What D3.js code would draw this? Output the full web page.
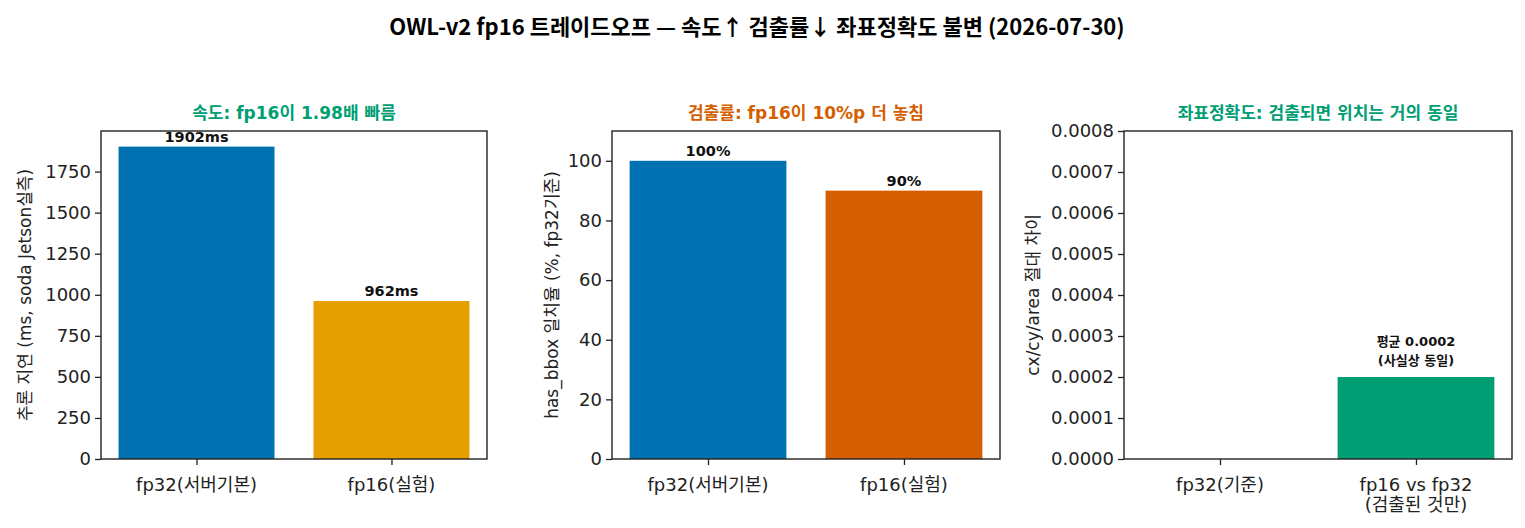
<!DOCTYPE html>
<html>
<head>
<meta charset="utf-8">
<script src="https://cdn.jsdelivr.net/npm/d3@7"></script>
<style>
  body { margin: 0; background: #fff; }
  svg { font-family: "DejaVu Sans", "Noto Sans CJK KR", sans-serif; }
  .title { font-family: "Noto Sans CJK KR", "Noto Sans", sans-serif; }
</style>
</head>
<body>
<script>
// data
var speedCats = ["fp32(서버기본)", "fp16(실험)"];
var speedVals = [1902, 962];
var speedLabels = ["1902ms", "962ms"];

var detectCats = ["fp32(서버기본)", "fp16(실험)"];
var detectVals = [100, 90];
var detectLabels = ["100%", "90%"];

var coordCats = ["fp32(기준)", "fp16 vs fp32\n(검출된 것만)"];
var coordVals = [0, 0.0002];
var coordLabels = ["", "평균 0.0002\n(사실상 동일)"];

var speedTicks = [0, 250, 500, 750, 1000, 1250, 1500, 1750];
var detectTicks = [0, 20, 40, 60, 80, 100];
var coordTicks = [0, 0.0001, 0.0002, 0.0003, 0.0004, 0.0005, 0.0006, 0.0007, 0.0008];

var W = 1525, H = 528;
var plotTop = 131, plotBottom = 459;

var svg = d3.select("body").append("svg")
  .attr("width", W).attr("height", H);

svg.append("text").attr("class", "title")
  .attr("x", 757).attr("y", 35)
  .attr("text-anchor", "middle")
  .style("font-size", "22px").style("font-weight", "bold")
  .text("OWL-v2 fp16 트레이드오프 — 속도↑ 검출률↓ 좌표정확도 불변 (2026-07-30)");

function panel(opt) {
  var g = svg.append("g");
  // two bars of width .8, xlim like matplotlib [-0.49, 1.49]
  var x = d3.scaleLinear().domain([-0.49, 1.49]).range([opt.left, opt.right]);
  var y = d3.scaleLinear().domain(opt.ydom).range([plotBottom, plotTop]);

  g.selectAll("rect.bar").data(opt.vals).enter().append("rect")
    .attr("class", "bar")
    .attr("x", function(d, i) { return x(i - 0.4); })
    .attr("width", function(d, i) { return x(i + 0.4) - x(i - 0.4); })
    .attr("y", function(d) { return y(d); })
    .attr("height", function(d) { return plotBottom - y(d); })
    .attr("fill", function(d, i) { return opt.colors[i]; });

  // y axis
  var ya = g.append("g").attr("transform", "translate(" + opt.left + ",0)")
    .call(d3.axisLeft(y).tickValues(opt.ticks).tickSize(6).tickPadding(4).tickFormat(opt.fmt));
  ya.select(".domain").remove();
  ya.selectAll("text").style("font-size", "18px").style("font-family", "DejaVu Sans").attr("fill", "#222");
  ya.selectAll("line").attr("stroke", "#222").attr("stroke-width", 1.3);

  // x axis
  var xa = g.append("g").attr("transform", "translate(0," + plotBottom + ")")
    .call(d3.axisBottom(x).tickValues([0, 1]).tickSize(6).tickFormat(""));
  xa.select(".domain").remove();
  xa.selectAll("line").attr("stroke", "#222").attr("stroke-width", 1.3);
  opt.cats.forEach(function(c, i) {
    var t = g.append("text").attr("x", x(i)).attr("y", plotBottom + 32)
      .attr("text-anchor", "middle").style("font-size", "18px").attr("fill", "#222");
    c.split("\n").forEach(function(line, k) {
      t.append("tspan").attr("x", x(i)).attr("dy", k ? 20 : 0).text(line);
    });
  });

  // frame
  g.append("rect").attr("x", opt.left).attr("y", plotTop)
    .attr("width", opt.right - opt.left).attr("height", plotBottom - plotTop)
    .attr("fill", "none").attr("stroke", "#222").attr("stroke-width", 1.4);

  // bar labels
  opt.labels.forEach(function(lab, i) {
    if (!lab) return;
    var lines = lab.split("\n");
    var t = g.append("text").attr("x", x(i))
      .attr("text-anchor", "middle").style("font-weight", "bold")
      .style("font-size", opt.labSize + "px").attr("fill", "#111");
    t.attr("y", y(opt.vals[i]) - opt.labGap - (lines.length - 1) * opt.labLine);
    lines.forEach(function(line, k) {
      t.append("tspan").attr("x", x(i)).attr("dy", k ? opt.labLine : 0).text(line);
    });
  });

  // panel title
  g.append("text").attr("x", (opt.left + opt.right) / 2).attr("y", 119)
    .attr("text-anchor", "middle").style("font-weight", "bold")
    .style("font-size", "17px").attr("fill", opt.titleColor).text(opt.title);

  // y label
  g.append("text")
    .attr("transform", "translate(" + opt.ylx + "," + ((plotTop + plotBottom) / 2) + ") rotate(-90)")
    .attr("text-anchor", "middle").style("font-size", "17px").attr("fill", "#222")
    .text(opt.ylabel);
}

panel({
  left: 101, right: 487, cats: speedCats, vals: speedVals, labels: speedLabels,
  colors: ["#0072B2", "#E69F00"], ydom: [0, 1902 * 1.05], ticks: speedTicks,
  fmt: d3.format("d"), labSize: 14.5, labGap: 5, labLine: 19,
  title: "속도: fp16이 1.98배 빠름", titleColor: "#009E73",
  ylabel: "추론 지연 (ms, soda Jetson실측)", ylx: 31
});

panel({
  left: 612, right: 1000, cats: detectCats, vals: detectVals, labels: detectLabels,
  colors: ["#0072B2", "#D55E00"], ydom: [0, 110], ticks: detectTicks,
  fmt: d3.format("d"), labSize: 14.5, labGap: 5, labLine: 19,
  title: "검출률: fp16이 10%p 더 놓침", titleColor: "#D55E00",
  ylabel: "has_bbox 일치율 (%, fp32기준)", ylx: 558
});

panel({
  left: 1124, right: 1512, cats: coordCats, vals: coordVals, labels: coordLabels,
  colors: ["#0072B2", "#009E73"], ydom: [0, 0.0008], ticks: coordTicks,
  fmt: d3.format(".4f"), labSize: 13, labGap: 12, labLine: 19,
  title: "좌표정확도: 검출되면 위치는 거의 동일", titleColor: "#009E73",
  ylabel: "cx/cy/area 절대 차이", ylx: 1039
});
</script>
</body>
</html>
